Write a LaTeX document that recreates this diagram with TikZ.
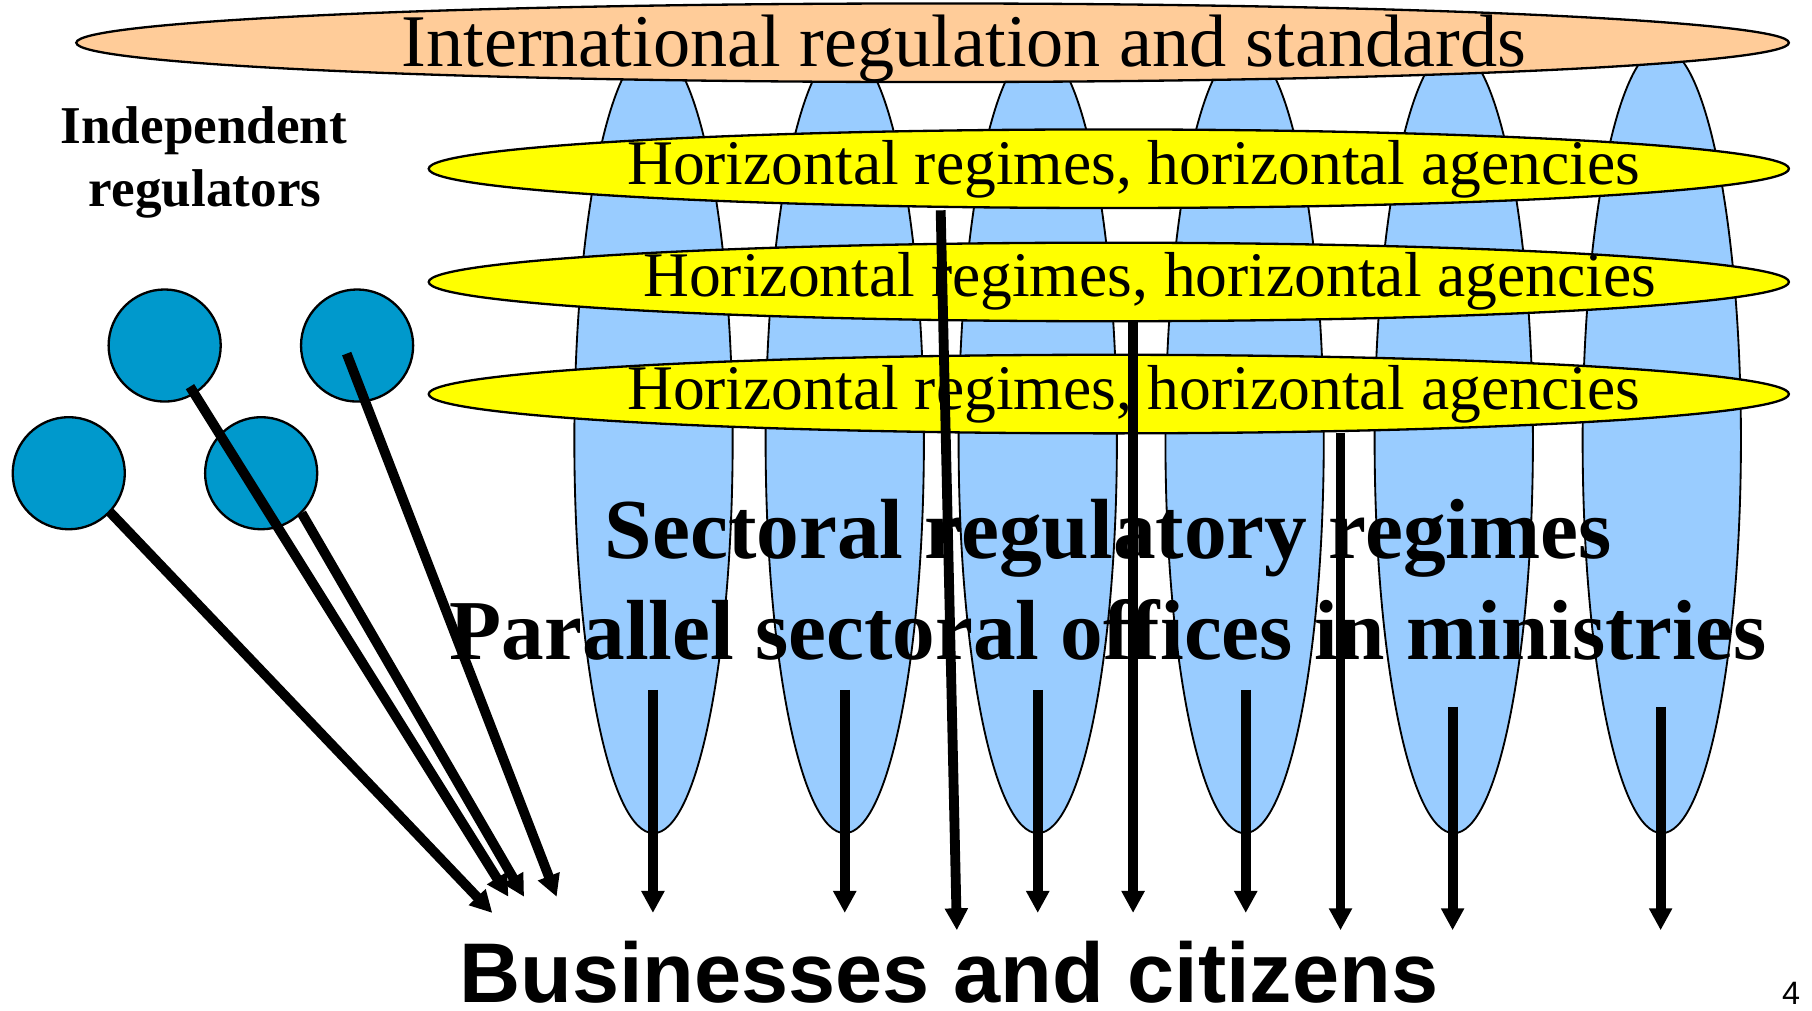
\documentclass[tikz,border=0pt]{standalone}
\usepackage{fontspec}
\setmainfont{Liberation Serif}
\newfontfamily\arialfont{Liberation Sans}
\usetikzlibrary{arrows.meta}
\definecolor{orangefill}{HTML}{FFCC99}
\definecolor{yellowfill}{HTML}{FFFF00}
\definecolor{bluefill}{HTML}{99CCFF}
\definecolor{tealfill}{HTML}{0099CC}
\tikzset{
  sectorell/.style={fill=bluefill, draw=black, line width=1.6pt},
  horizell/.style={fill=yellowfill, draw=black, line width=2pt},
  intlell/.style={fill=orangefill, draw=black, line width=2pt},
  regcircle/.style={circle, fill=tealfill, draw=black, line width=2pt, minimum size=97pt, inner sep=0pt},
  flow/.style={line width=8.5pt, -{Triangle[length=19pt,width=19pt]}},
  txt/.style={inner sep=0pt, anchor=base},
}
\begin{document}
\begin{tikzpicture}[x=1pt,y=-1pt]
\useasboundingbox (0,0) rectangle (1568,874);
% sectoral (vertical) ellipses
\foreach \cx in {565.5,731,898,1077,1258,1438}{
  \draw[sectorell] (\cx,381) ellipse [x radius=68.5pt, y radius=340pt];
}
% international
\draw[intlell] (807,37) ellipse [x radius=741pt, y radius=34pt];
\node[txt] (intl) at (834,57.7) {\fontsize{64.3pt}{70pt}\selectfont International regulation and standards};
% horizontal regimes
\draw[horizell] (959.5,146) ellipse [x radius=588.5pt, y radius=34pt];
\draw[horizell] (959.5,244) ellipse [x radius=588.5pt, y radius=34pt];
\draw[horizell] (959.5,341) ellipse [x radius=588.5pt, y radius=34pt];
\node[txt] (h1) at (981,160) {\fontsize{55pt}{60pt}\selectfont Horizontal regimes, horizontal agencies};
\node[txt] (h2) at (995,256.7) {\fontsize{55pt}{60pt}\selectfont Horizontal regimes, horizontal agencies};
\node[txt] (h3) at (981,354) {\fontsize{55pt}{60pt}\selectfont Horizontal regimes, horizontal agencies};
% independent regulators
\node[txt] (ind1) at (176.5,124) {\fontsize{46pt}{50pt}\selectfont\bfseries Independent};
\node[txt] (ind2) at (177.5,179) {\fontsize{46pt}{50pt}\selectfont\bfseries regulators};
\node[regcircle] (ca) at (142.5,299) {};
\node[regcircle] (cb) at (309,299) {};
\node[regcircle] (cc) at (59.5,409.5) {};
\node[regcircle] (cd) at (226,409.5) {};
% sectoral texts
\node[txt] (sect) at (959,483) {\fontsize{73.9pt}{80pt}\selectfont\bfseries Sectoral regulatory regimes};
\node[txt] (par) at (959,571) {\fontsize{73.8pt}{80pt}\selectfont\bfseries Parallel sectoral offices in ministries};
% bottom texts
\node[txt] (biz) at (821,867.5) {\arialfont\bfseries\fontsize{73.3pt}{78pt}\selectfont Businesses and citizens};
\node[txt] (pg) at (1550,869) {\arialfont\fontsize{28pt}{30pt}\selectfont 4};
% coordinates for connectors
\coordinate (sa) at (164.4,334.6); \coordinate (ea) at (440,776);
\coordinate (sd) at (261,444);     \coordinate (ed) at (453.5,776);
\coordinate (sc) at (95,443);      \coordinate (ec) at (426,790);
\coordinate (sb) at (300,306);     \coordinate (eb) at (481.7,776);
\draw[flow] (sc) -- (ec);
\draw[flow] (sd) -- (ed);
\draw[flow] (sa) -- (ea);
\draw[flow] (sb) -- (eb);
% sectoral arrows
\foreach \x/\ys/\ye [count=\i] in {565/597/790,731/597/790,898/597/790,1078/597/790,1257/611.5/805,1437/611.5/805}{
  \coordinate (vs\i) at (\x,\ys);
  \coordinate (ve\i) at (\x,\ye);
  \draw[flow] (vs\i) -- (ve\i);
}
% horizontal regime arrows
\coordinate (hs1) at (814,182);   \coordinate (he1) at (828,805);
\coordinate (hs2) at (980.5,278); \coordinate (he2) at (980.5,790);
\coordinate (hs3) at (1160,375);  \coordinate (he3) at (1160,805);
\draw[flow] (hs1) -- (he1);
\draw[flow] (hs2) -- (he2);
\draw[flow] (hs3) -- (he3);
\end{tikzpicture}
\end{document}
